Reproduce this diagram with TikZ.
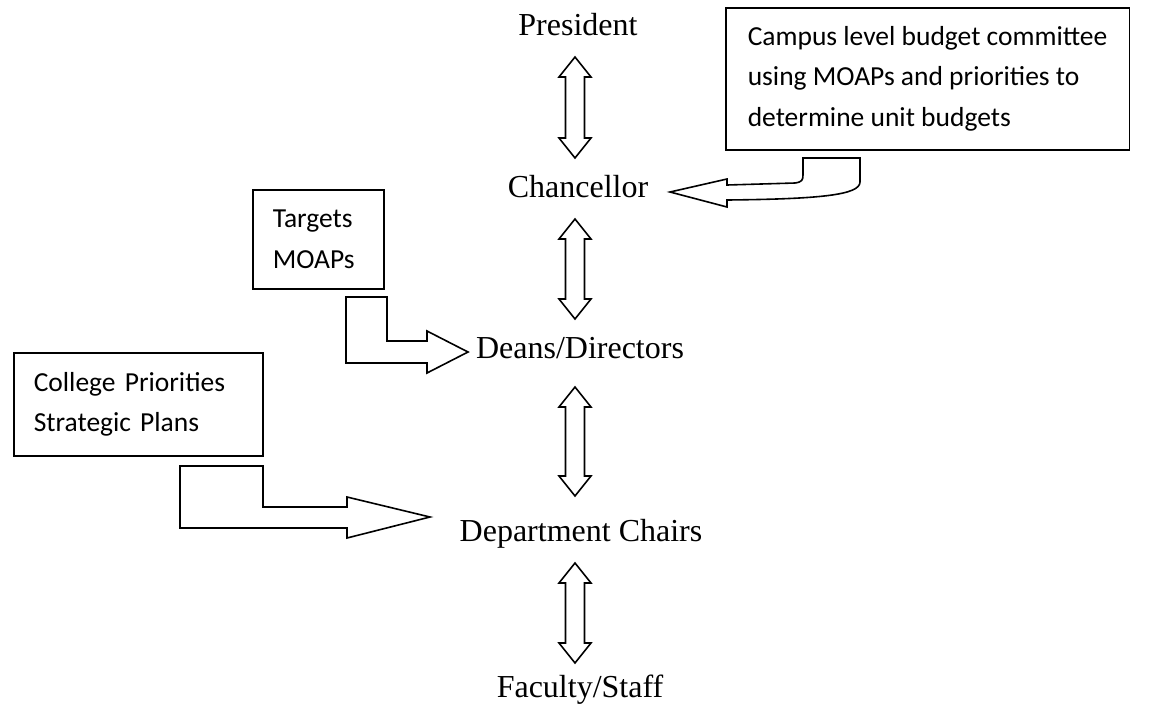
\documentclass[tikz,border=0pt]{standalone}
\usepackage{fontspec}
\setmainfont{Liberation Serif}
\newfontfamily\boxfont{Carlito}
\usetikzlibrary{positioning}

\begin{document}
\begin{tikzpicture}[x=0.5pt,y=-0.5pt,line width=0.8pt,
    level/.style={font=\fontsize{16}{19}\selectfont,anchor=base,inner sep=0pt},
    infobox/.style={draw,anchor=north west,align=left,inner xsep=10pt,inner ysep=0pt,
      font=\boxfont\fontsize{13.75}{20.25}\selectfont}]
  \useasboundingbox (0,0) rectangle (1168,719);
  % the chain of offices
  \node [level] (pres) at (578,35) {President};
  \node [level] (chan) at (578,197) {Chancellor};
  \node [level] (deans) at (580,358) {Deans/Directors};
  \node [level] (dept) at (581,541) {Department Chairs};
  \node [level] (fac) at (580,697) {Faculty/Staff};
  % double arrows between the levels
  \foreach \ya/\yb in {57/158,219/319,387/496,563/663}
    \draw (575,\ya) -- (591,\ya+20) -- (584.5,\ya+20) -- (584.5,\yb-20) -- (591,\yb-20)
      -- (575,\yb) -- (559,\yb-20) -- (565.5,\yb-20) -- (565.5,\ya+20) -- (559,\ya+20) -- cycle;
  % boxes feeding in
  \node [infobox,inner xsep=11pt,minimum height=71pt] (campus) at (725,7)
    {Campus level budget committee\\using MOAPs and priorities to\\determine unit budgets};
  \node [infobox,text width=45.5pt,minimum height=49.5pt] (targets) at (252,189)
    {Targets\\MOAPs};
  \node [infobox,text width=104.5pt,minimum height=51.5pt] (college) at (13,352)
    {College Priorities\\Strategic Plans};
  % bent block arrows
  \draw (803,158) -- (860,158) -- (860,182) .. controls (860,195) and (820,199) .. (727,200)
    -- (727,207) -- (670,192) -- (727,179) -- (727,185) -- (795,183)
    .. controls (802,182) and (803,180) .. (803,175) -- cycle;
  \draw (346,297) -- (387,297) -- (387,341) -- (427,341) -- (427,331) -- (468,352)
    -- (427,373) -- (427,363) -- (346,363) -- cycle;
  \draw (180,466) -- (263,466) -- (263,507) -- (347,507) -- (347,497) -- (430,517)
    -- (347,538) -- (347,528) -- (180,528) -- cycle;
\end{tikzpicture}
\end{document}
